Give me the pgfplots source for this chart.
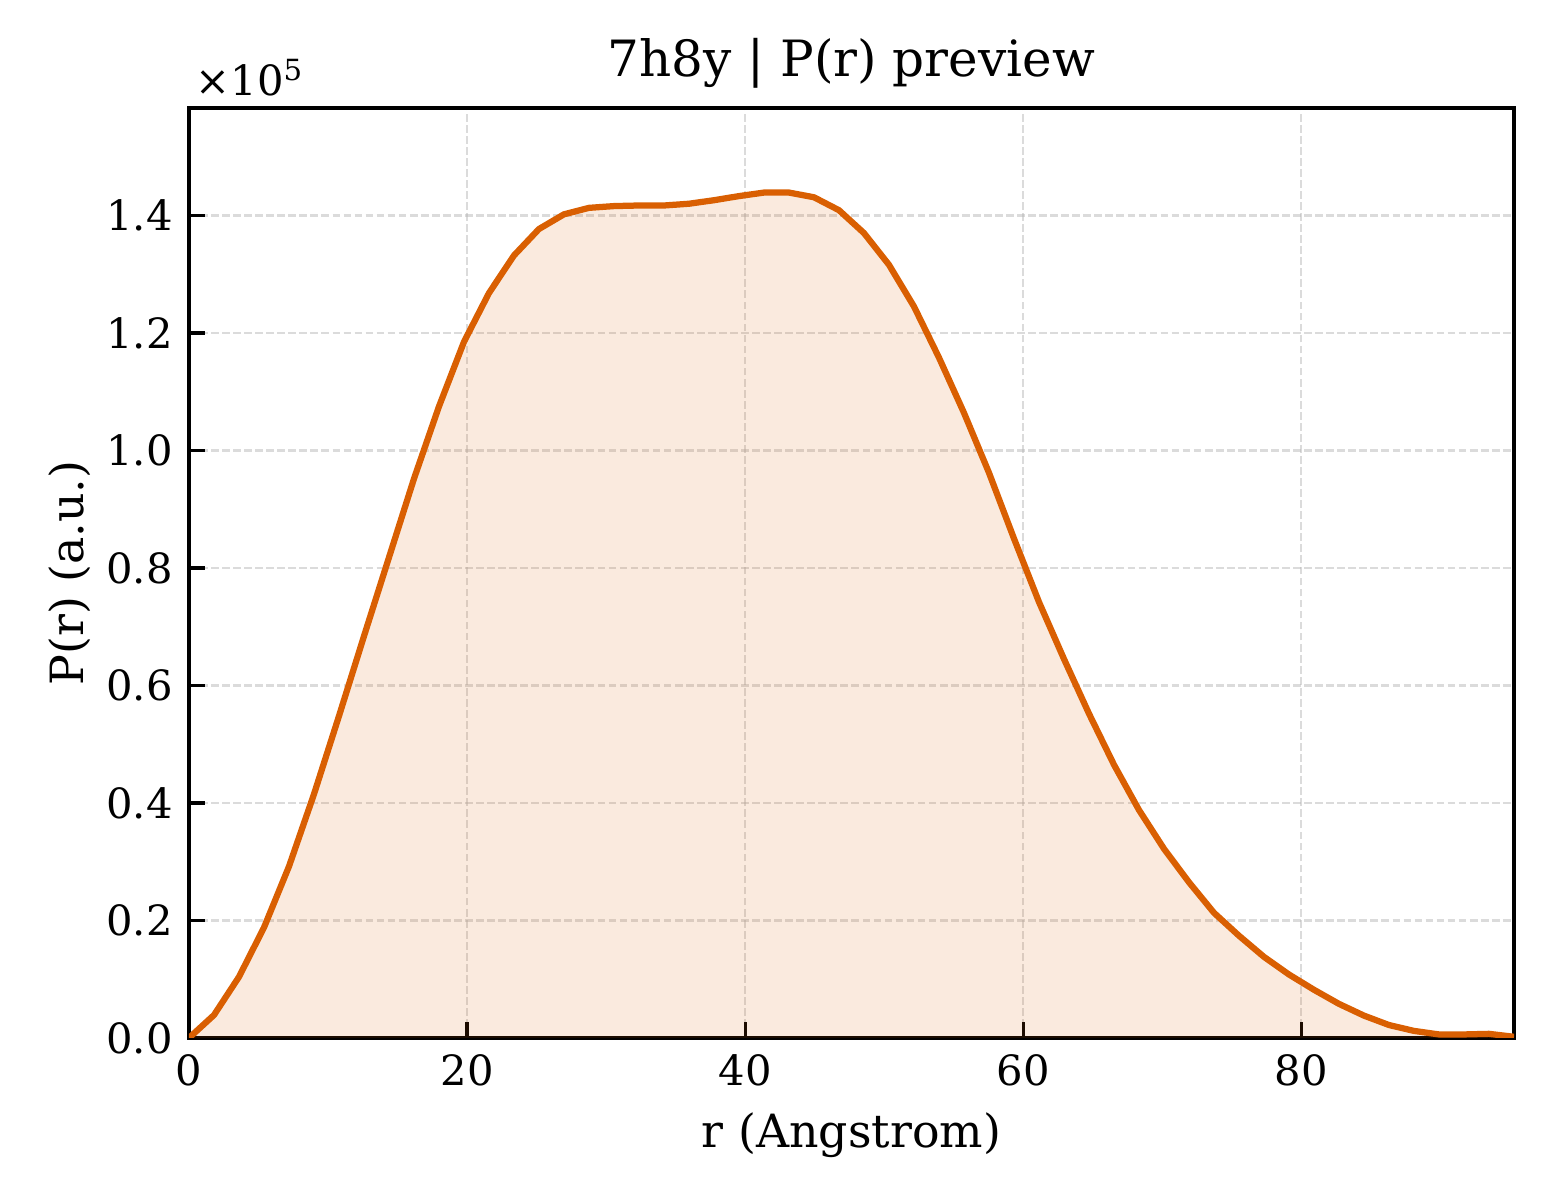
\documentclass[border=0pt]{standalone}
\usepackage{fontspec}
\setmainfont{DejaVu Serif}
\usepackage{pgfplots}
\usepackage{pgfplotstable}
\pgfplotsset{compat=1.18}
\definecolor{pr}{HTML}{D95F02}
\definecolor{gridc}{HTML}{B0B0B0}
\newcommand{\fs}{\fontsize{10}{12}\selectfont}
\newcommand{\fl}{\fontsize{11}{13}\selectfont}
\newcommand{\ft}{\fontsize{12}{14}\selectfont}

\pgfplotstableread{
x y
0.000 0.000
1.798 0.039
3.596 0.104
5.394 0.188
7.192 0.292
8.990 0.415
10.788 0.548
12.586 0.684
14.384 0.818
16.182 0.952
17.980 1.075
19.778 1.185
21.576 1.268
23.374 1.332
25.172 1.377
26.970 1.402
28.768 1.413
30.566 1.416
32.364 1.417
34.162 1.417
35.960 1.420
37.758 1.426
39.556 1.433
41.354 1.439
43.152 1.439
44.950 1.431
46.748 1.409
48.546 1.370
50.344 1.316
52.142 1.245
53.940 1.158
55.738 1.064
57.536 0.962
59.334 0.850
61.132 0.742
62.930 0.645
64.728 0.552
66.526 0.465
68.324 0.388
70.122 0.322
71.920 0.265
73.718 0.213
75.516 0.174
77.314 0.138
79.112 0.108
80.910 0.082
82.708 0.058
84.506 0.038
86.304 0.022
88.102 0.012
89.900 0.006
91.698 0.006
93.496 0.007
95.294 0.002
}\prdata

\begin{document}
\begin{tikzpicture}
\begin{axis}[
  name=ax,
  scale only axis, width=318pt, height=223.2pt,
  xmin=0, xmax=95.294, ymin=0, ymax=1.583,
  xtick={0,20,40,60,80}, xticklabels={0,20,40,60,80},
  ytick={0,0.2,0.4,0.6,0.8,1.0,1.2,1.4},
  yticklabels={0.0,0.2,0.4,0.6,0.8,1.0,1.2,1.4},
  tick align=inside, xtick pos=bottom, ytick pos=left,
  major tick length=3.8pt,
  major tick style={line width=0.8pt, black},
  axis line style={line width=0.8pt, black},
  grid=major,
  major grid style={gridc, opacity=0.45, line width=0.5pt, dash pattern=on 1.85pt off 0.8pt},
  ticklabel style={font=\fs},
  xticklabel style={anchor=base, yshift=-11.3pt},
  yticklabel style={anchor=east, xshift=-0.4pt},
  xlabel={r (Angstrom)},
  xlabel style={at={(axis description cs:0.5,-0.1183)}, anchor=base, font=\fl},
  ylabel={P(r) (a.u.)},
  ylabel style={at={(axis description cs:-0.07925,0.5)}, anchor=base, font=\fl},
]
\addplot[draw=none, fill=pr, fill opacity=0.13, forget plot] table[x=x,y=y] {\prdata} \closedcycle;
\addplot[pr, line width=1.5pt, line join=round] table[x=x,y=y] {\prdata};
\end{axis}
\node[anchor=base, yshift=7.5pt, inner sep=0pt, font=\ft] at (ax.north) {7h8y | P(r) preview};
\node[anchor=base west, xshift=1.4pt, yshift=3.1pt, inner sep=0pt, font=\fs] at (ax.north west) {×10\raisebox{3.5pt}{\fontsize{7}{8}\selectfont 5}};
\pgfresetboundingbox
\path ([xshift=-45.36pt,yshift=-38.88pt]ax.south west) rectangle ([xshift=11.04pt,yshift=25.92pt]ax.north east);
\end{tikzpicture}
\end{document}
